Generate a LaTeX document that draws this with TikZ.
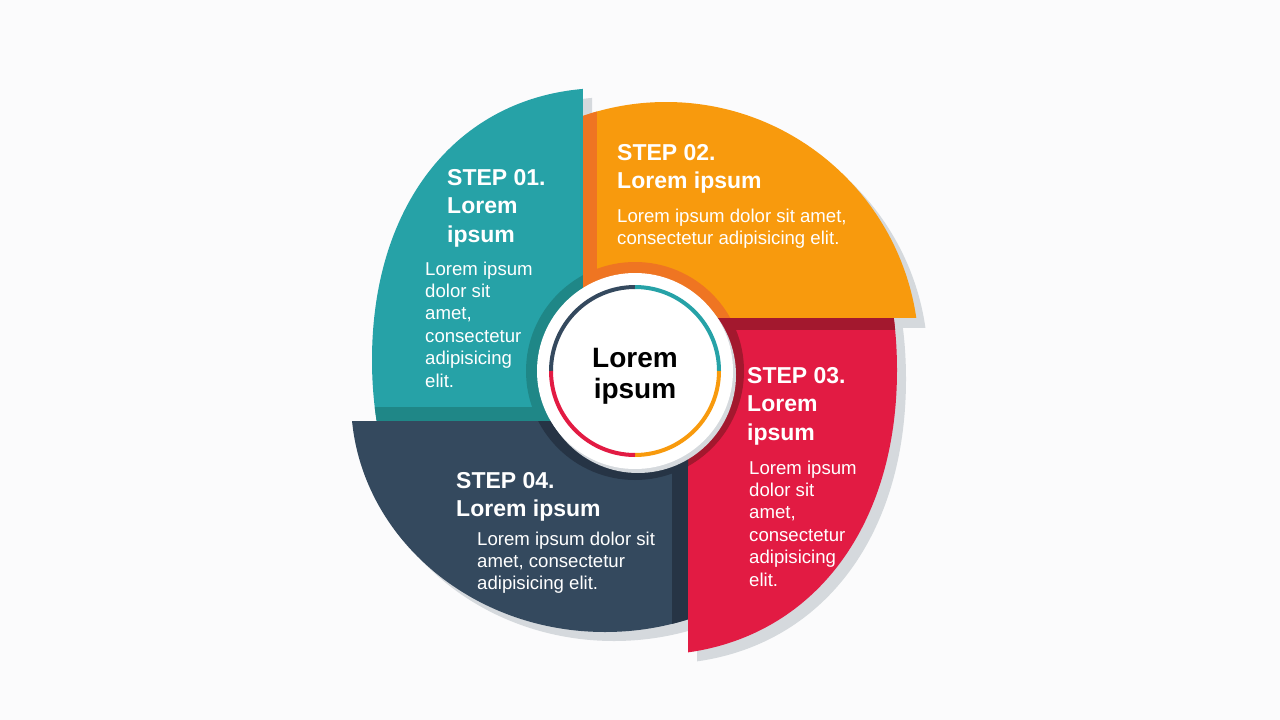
\documentclass[tikz,border=0pt]{standalone}
\usepackage{fontspec}
\setmainfont{Liberation Sans}
\definecolor{bg}{HTML}{FBFBFC}
\definecolor{tealc}{HTML}{26A2A7}
\definecolor{teald}{HTML}{1F8787}
\definecolor{orgc}{HTML}{F89A0D}
\definecolor{orgd}{HTML}{EF7522}
\definecolor{redc}{HTML}{E21B43}
\definecolor{redd}{HTML}{A3182E}
\definecolor{navc}{HTML}{34495E}
\definecolor{navd}{HTML}{263445}
\definecolor{shad}{HTML}{D5D9DD}
% rounded (super)ellipse: #1 cx, #2 cy, #3 a, #4 b, #5 k
\newcommand\roundShape[5]{(#1,{#2-#4}) .. controls ({#1-#5*#3},{#2-#4}) and ({#1-#3},{#2-#5*#4}) .. ({#1-#3},#2)
  .. controls ({#1-#3},{#2+#5*#4}) and ({#1-#5*#3},{#2+#4}) .. (#1,{#2+#4})
  .. controls ({#1+#5*#3},{#2+#4}) and ({#1+#3},{#2+#5*#4}) .. ({#1+#3},#2)
  .. controls ({#1+#3},{#2-#5*#4}) and ({#1+#5*#3},{#2-#4}) .. (#1,{#2-#4}) -- cycle}
\def\tealshape{\roundShape{605}{360}{233}{272}{0.6}}
\def\orgshape{\roundShape{666}{355}{253}{253}{0.5523}}
\def\redshape{\roundShape{650}{370}{247}{285}{0.6}}
\def\navshape{\roundShape{605}{400}{254}{232}{0.5523}}
% piece: #1 fill, #2 dark, #3 shape, #4 #5 clip rectangle, #6 #7 dark strip
\newcommand\stepPiece[7]{%
  \begin{scope}
    \clip (#4) rectangle (#5);
    \clip #3;
    \fill[#1] (#4) rectangle (#5);
    \fill[#2] (635,371) circle (109);
    \fill[#2] (#6) rectangle (#7);
  \end{scope}}
\newcommand\stepShadow[3]{%
  \begin{scope}[shift={(9,9)}]
    \clip (#2) rectangle (#3);
    \fill[shad] #1;
  \end{scope}}
\newcommand\textLines[6]{%
  \foreach \t [count=\i] in {#6} {
    \node[#5, anchor=base west] (#1-\i) at (#2, {#3+(\i-1)*#4}) {\t};
  }}
\tikzset{
  titletxt/.style={font=\bfseries\fontsize{23}{28}\selectfont, text=white, inner sep=0pt},
  bodytxt/.style={font=\fontsize{18.6}{22}\selectfont, text=white, inner sep=0pt},
  centertxt/.style={font=\bfseries\fontsize{28}{32}\selectfont, text=black, inner sep=0pt, anchor=base},
}
\begin{document}
\begin{tikzpicture}[x=1pt,y=-1pt]
\useasboundingbox (0,0) rectangle (1280,720);
\fill[bg] (0,0) rectangle (1280,720);
% shadows
\stepShadow{\tealshape}{300,40}{583,421}
\stepShadow{\orgshape}{583,40}{1000,318}
\stepShadow{\redshape}{688,318}{1000,700}
\stepShadow{\navshape}{300,421}{688,700}
% pieces
\stepPiece{tealc}{teald}{\tealshape}{300,40}{583,421}{300,407}{583,421}
\stepPiece{orgc}{orgd}{\orgshape}{583,40}{1000,318}{583,40}{597,318}
\stepPiece{redc}{redd}{\redshape}{688,318}{1000,700}{688,318}{1000,330}
\stepPiece{navc}{navd}{\navshape}{300,421}{688,700}{672,421}{688,700}
% centre disk
\fill[shad] (638,375) circle (98);
\fill[white] (635,371) circle (98);
\coordinate (c) at (635,371);
\draw[navc, line width=4pt] (c) ++(180:84) arc (180:270:84);
\draw[tealc, line width=4pt] (c) ++(270:84) arc (270:360:84);
\draw[orgc, line width=4pt] (c) ++(0:84) arc (0:90:84);
\draw[redc, line width=4pt] (c) ++(90:84) arc (90:180:84);
\node[centertxt] (cA) at (635,367) {Lorem};
\node[centertxt] (cB) at (635,398) {ipsum};
% texts
\textLines{s1t}{447}{185}{28.5}{titletxt}{{STEP 01.},{Lorem},{ipsum}}
\textLines{s1b}{425}{275}{22.4}{bodytxt}{{Lorem ipsum},{dolor sit},{amet,},{consectetur},{adipisicing},{elit.}}
\textLines{s2t}{617}{160}{28.5}{titletxt}{{STEP 02.},{Lorem ipsum}}
\textLines{s2b}{617}{222}{22.4}{bodytxt}{{Lorem ipsum dolor sit amet,},{consectetur adipisicing elit.}}
\textLines{s3t}{747}{383}{28.5}{titletxt}{{STEP 03.},{Lorem},{ipsum}}
\textLines{s3b}{749}{474}{22.4}{bodytxt}{{Lorem ipsum},{dolor sit},{amet,},{consectetur},{adipisicing},{elit.}}
\textLines{s4t}{456}{488}{28.5}{titletxt}{{STEP 04.},{Lorem ipsum}}
\textLines{s4b}{477}{545}{22.4}{bodytxt}{{Lorem ipsum dolor sit},{amet, consectetur},{adipisicing elit.}}
\end{tikzpicture}
\end{document}
